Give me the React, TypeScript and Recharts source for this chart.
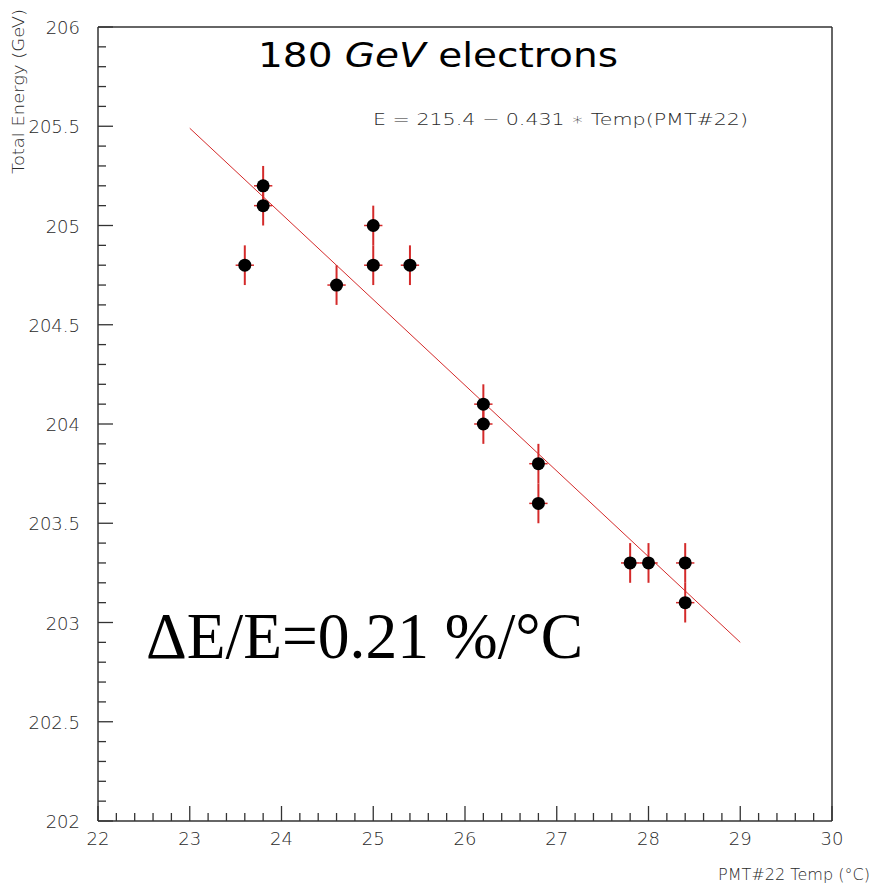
import React from 'react';
import {
  ComposedChart,
  Scatter,
  ErrorBar,
  XAxis,
  YAxis,
  ReferenceLine,
} from 'recharts';

// measured points (temperature, energy) with their errors
const temps = [23.6, 23.8, 23.8, 24.6, 25.0, 25.0, 25.4, 26.2, 26.2, 26.8, 26.8, 27.8, 28.0, 28.4, 28.4];
const energies = [204.8, 205.2, 205.1, 204.7, 205.0, 204.8, 204.8, 204.1, 204.0, 203.8, 203.6, 203.3, 203.3, 203.3, 203.1];
const tempErr = [0.1, 0.1, 0.1, 0.1, 0.1, 0.1, 0.1, 0.1, 0.1, 0.1, 0.1, 0.1, 0.1, 0.1, 0.1];
const energyErr = [0.1, 0.1, 0.1, 0.1, 0.1, 0.1, 0.1, 0.1, 0.1, 0.1, 0.1, 0.1, 0.1, 0.1, 0.1];

// fit line end points
const fitTemps = [23, 29];
const fitEnergies = [205.49, 202.9];

const xDomain = [22, 30];
const yDomain = [202, 206];
const xTicks = Array.from({ length: 41 }, (_, i) => +(22 + i * 0.2).toFixed(1));
const yTicks = Array.from({ length: 41 }, (_, i) => +(202 + i * 0.1).toFixed(1));

const points = temps.map((t, i) => ({ x: t, y: energies[i], ex: tempErr[i], ey: energyErr[i] }));
const fit = fitTemps.map((t, i) => ({ x: t, y: fitEnergies[i] }));

const axisColor = '#333';
const labelColor = '#2a2a2a';
const red = '#d42a2a';

const XTick = (props: any) => {
  const { x, y, payload } = props;
  const v = payload.value;
  const major = Number.isInteger(v);
  return (
    <g>
      <line x1={x} x2={x} y1={y} y2={y - (major ? 15 : 8)} stroke={axisColor} strokeWidth={1.3} />
      {major && (
        <text x={x} y={y + 24} textAnchor="middle" fontFamily="DejaVu Sans" fontSize={18} fontWeight={300} fill={labelColor}>
          {v}
        </text>
      )}
    </g>
  );
};

const YTick = (props: any) => {
  const { x, y, payload } = props;
  const v = payload.value;
  const major = Number.isInteger(v * 2);
  return (
    <g>
      <line x1={x} x2={x + (major ? 15 : 8)} y1={y} y2={y} stroke={axisColor} strokeWidth={1.3} />
      {major && (
        <text x={x - 18} y={y + 7} textAnchor="end" fontFamily="DejaVu Sans" fontSize={18} fontWeight={300} fill={labelColor}>
          {String(v)}
        </text>
      )}
    </g>
  );
};

const Dot = (props: any) => {
  const { cx, cy } = props;
  return <circle cx={cx} cy={cy} r={6.5} fill="#000" />;
};

export default function App() {
  return (
    <div style={{ position: 'absolute', left: 0, top: 0, width: 872, height: 885, background: '#fff' }}>
      <ComposedChart width={872} height={885} margin={{ top: 27, right: 40, bottom: 0, left: 0 }}>
        <XAxis
          type="number"
          dataKey="x"
          domain={xDomain}
          ticks={xTicks}
          interval={0}
          allowDataOverflow
          height={64}
          tickSize={0}
          tickMargin={0}
          tick={<XTick />}
          axisLine={{ stroke: axisColor, strokeWidth: 1.5 }}
        />
        <YAxis
          type="number"
          dataKey="y"
          domain={yDomain}
          ticks={yTicks}
          interval={0}
          allowDataOverflow
          width={98}
          tickSize={0}
          tickMargin={0}
          tick={<YTick />}
          axisLine={{ stroke: axisColor, strokeWidth: 1.5 }}
        />
        <ReferenceLine y={206} stroke={axisColor} strokeWidth={1.5} />
        <ReferenceLine x={30} stroke={axisColor} strokeWidth={1.5} />
        <Scatter
          data={fit}
          line={{ stroke: red, strokeWidth: 1 }}
          shape={() => null}
          isAnimationActive={false}
        />
        <Scatter data={points} shape={<Dot />} isAnimationActive={false}>
          <ErrorBar dataKey="ey" direction="y" width={0} stroke={red} strokeWidth={2} isAnimationActive={false} />
          <ErrorBar dataKey="ex" direction="x" width={0} stroke={red} strokeWidth={1.5} isAnimationActive={false} />
        </Scatter>
      </ComposedChart>
      <svg width={872} height={885} style={{ position: 'absolute', left: 0, top: 0, pointerEvents: 'none' }}>
        <text x={258} y={67} fontFamily="DejaVu Sans" fontSize={34} fill="#000" textLength={360} lengthAdjust="spacingAndGlyphs">
          180 <tspan fontStyle="italic">GeV</tspan> electrons
        </text>
        <text x={373} y={125} fontFamily="DejaVu Sans" fontSize={16} fontWeight={300} fill={labelColor} textLength={375} lengthAdjust="spacingAndGlyphs">
          E = 215.4 − 0.431 ∗ Temp(PMT#22)
        </text>
        <text x={146} y={658} fontFamily="Liberation Serif" fontSize={65} fill="#000" textLength={437} lengthAdjust="spacingAndGlyphs">
          ΔE/E=0.21 %/°C
        </text>
        <text x={718} y={880} fontFamily="DejaVu Sans" fontSize={15} fontWeight={300} fill={labelColor} textLength={152} lengthAdjust="spacingAndGlyphs">
          PMT#22 Temp (°C)
        </text>
        <text
          transform="translate(24,174) rotate(-90)"
          fontFamily="DejaVu Sans"
          fontSize={15}
          fontWeight={300}
          fill={labelColor}
          textLength={165}
          lengthAdjust="spacingAndGlyphs"
        >
          Total Energy (GeV)
        </text>
      </svg>
    </div>
  );
}
